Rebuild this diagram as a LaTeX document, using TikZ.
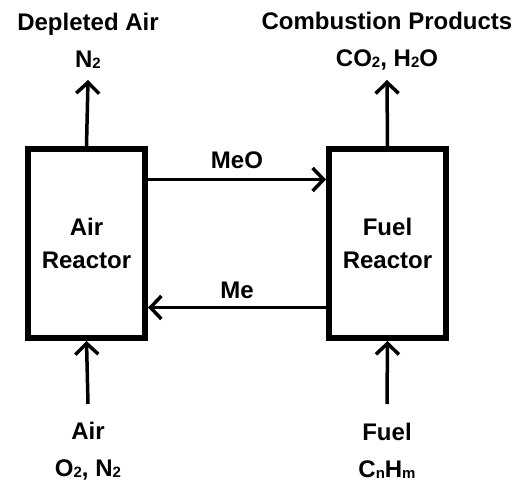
\documentclass[tikz,border=0pt]{standalone}
\usepackage{fontspec}
\setmainfont{Liberation Sans}
\usetikzlibrary{arrows.meta}
\newcommand{\chemsub}[1]{\raisebox{-1.5pt}{\fontsize{15}{15}\selectfont #1}}

\begin{document}
\begin{tikzpicture}[x=1pt,y=-1pt,
	>={Straight Barb[length=11pt,width=23pt]},
	reactor/.style={draw, line width=6pt,%
		minimum width=117pt, minimum height=189pt,%
		outer sep=3pt, align=center,%
		font=\bfseries\fontsize{24}{33}\selectfont},
	stream/.style={align=center, font=\bfseries\fontsize{24}{37}\selectfont},
	flow/.style={->, line width=3.5pt},
	flowlabel/.style={font=\bfseries\fontsize{24}{28}\selectfont, inner sep=3pt}]
	\useasboundingbox (0,0) rectangle (520,481);
	
	% reactors
	\node[reactor] (air) at (86.5,243.5) {Air\\Reactor};
	\node[reactor] (fuel) at (387.5,243.5) {Fuel\\Reactor};
	
	% streams in and out
	\node[stream] (depleted) at (88,41) {Depleted Air\\N\chemsub{2}};
	\node[stream] (products) at (387,41) {Combustion Products\\CO\chemsub{2}, H\chemsub{2}O};
	\node[stream] (airin) at (88,451) {Air\\O\chemsub{2}, N\chemsub{2}};
	\node[stream] (fuelin) at (387,451) {Fuel\\C\chemsub{n}H\chemsub{m}};
	
	\coordinate (airtop) at (88,80);
	\coordinate (fueltop) at (387,80);
	\coordinate (airbot) at (88,404);
	\coordinate (fuelbot) at (387,404);
	
	\draw[flow] (air.north) -- (airtop);
	\draw[flow] (fuel.north) -- (fueltop);
	\draw[flow] (airbot) -- (air.south);
	\draw[flow] (fuelbot) -- (fuel.south);
	
	% solids loop
	\draw[flow] ([yshift=64pt]air.east) -- node[flowlabel, above=6pt] (meo) {MeO} ([yshift=64pt]fuel.west);
	\draw[flow] ([yshift=-64pt]fuel.west) -- node[flowlabel, above=4pt] (me) {Me} ([yshift=-64pt]air.east);
\end{tikzpicture}
\end{document}
